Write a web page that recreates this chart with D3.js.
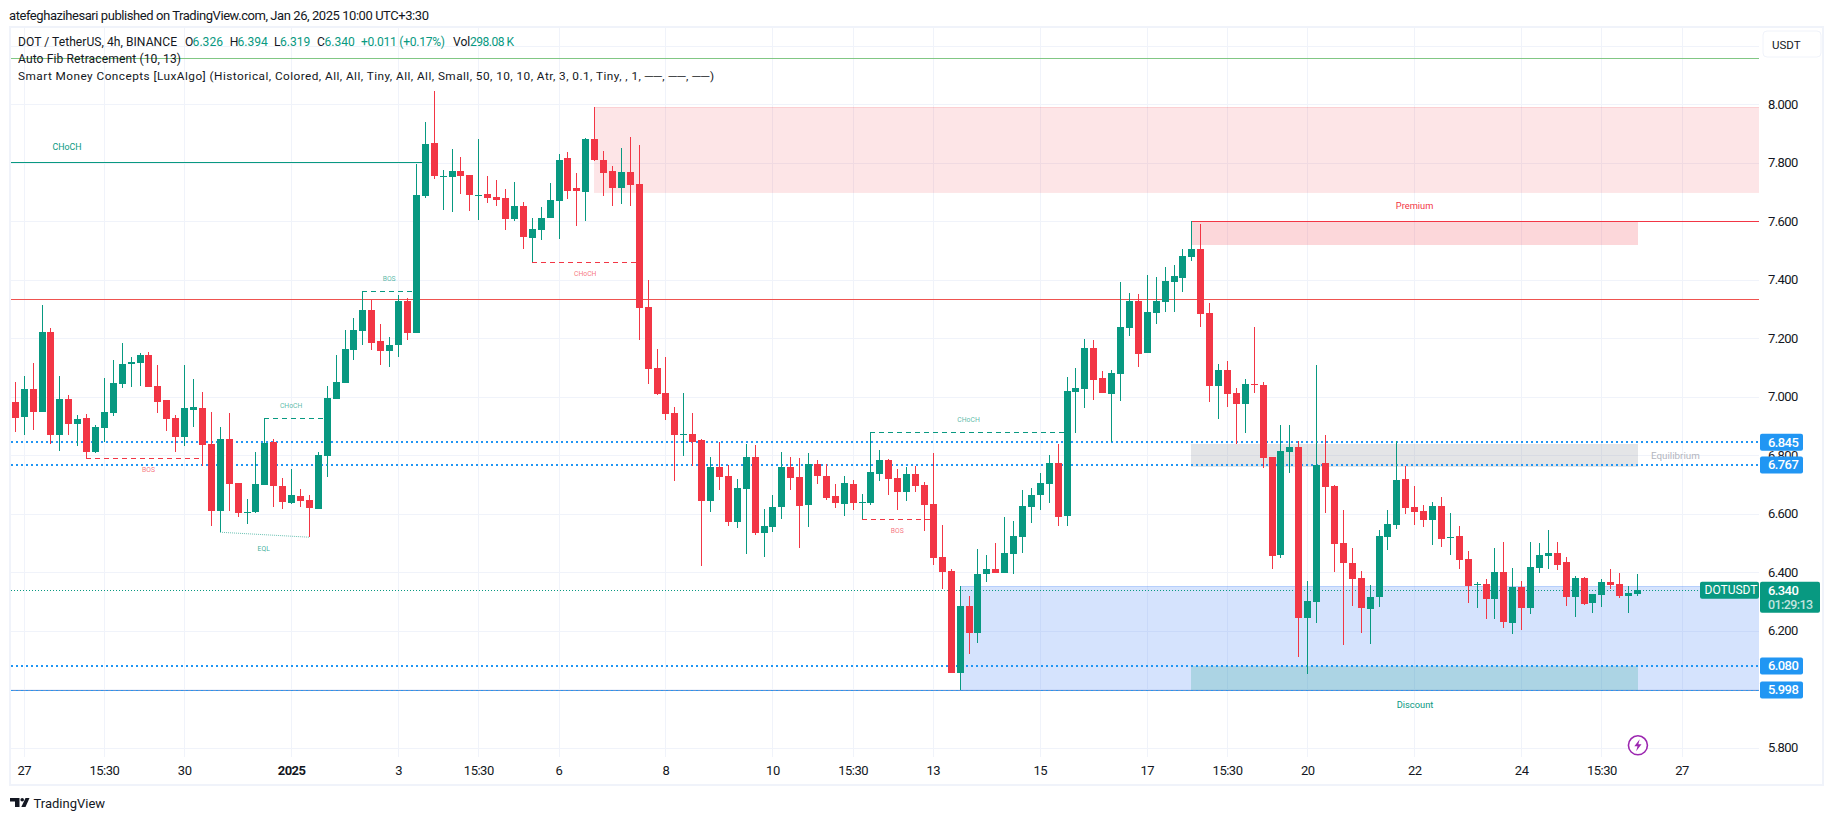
<!DOCTYPE html>
<html>
<head>
<meta charset="utf-8">
<title>DOT / TetherUS</title>
<script src="https://cdn.jsdelivr.net/npm/d3@7"></script>
<style>
  html, body { margin: 0; padding: 0; background: #fff; overflow: hidden; }
  text { font-family: Roboto, "Open Sans", sans-serif; }
</style>
</head>
<body>
<div id="chart"></div>
<script>
// bar number of the first candle (bar 0 sits on the "27" tick)
const firstBar = -1;

const opens = [
  6.983, 6.932, 7.027, 6.949, 7.222, 6.870, 6.993, 6.908, 6.928, 6.812,
  6.894, 6.945, 7.044, 7.113, 7.116, 7.144, 7.038, 6.990, 6.928, 6.863,
  6.956, 6.962, 6.839, 6.610, 6.856, 6.706, 6.605, 6.607, 6.699, 6.846,
  6.696, 6.638, 6.662, 6.648, 6.617, 6.798, 6.993, 7.048, 7.161, 7.226,
  7.297, 7.191, 7.157, 7.178, 7.328, 7.219, 7.687, 7.868, 7.753, 7.752,
  7.772, 7.759, 7.687, 7.694, 7.683, 7.680, 7.608, 7.653, 7.543, 7.571,
  7.612, 7.670, 7.817, 7.714, 7.700, 7.882, 7.810, 7.772, 7.714, 7.769,
  7.728, 7.307, 7.098, 7.013, 6.945, 6.870, 6.873, 6.852, 6.644, 6.760,
  6.729, 6.572, 6.685, 6.794, 6.534, 6.555, 6.623, 6.760, 6.726, 6.630,
  6.770, 6.729, 6.661, 6.633, 6.702, 6.638, 6.637, 6.736, 6.784, 6.722,
  6.674, 6.736, 6.698, 6.633, 6.452, 6.404, 6.056, 6.285, 6.192, 6.394,
  6.411, 6.398, 6.463, 6.521, 6.623, 6.664, 6.702, 6.774, 6.592, 7.017,
  7.027, 7.167, 7.064, 7.010, 7.078, 7.235, 7.328, 7.150, 7.287, 7.324,
  7.393, 7.406, 7.478, 7.505, 7.287, 7.037, 7.092, 7.013, 6.976, 7.044,
  7.041, 6.794, 6.459, 6.811, 6.829, 6.244, 6.299, 6.774, 6.695, 6.501,
  6.432, 6.381, 6.275, 6.316, 6.521, 6.562, 6.719, 6.624, 6.610, 6.579,
  6.627, 6.517, 6.524, 6.445, 6.357, 6.360, 6.309, 6.401, 6.227, 6.350,
  6.278, 6.415, 6.456, 6.466, 6.435, 6.316, 6.381, 6.295, 6.322, 6.367,
  6.360, 6.319, 6.326
];
const highs = [
  7.051, 7.072, 7.116, 7.315, 7.236, 7.072, 7.007, 6.938, 6.942, 6.904,
  7.065, 7.126, 7.185, 7.137, 7.150, 7.154, 7.109, 6.990, 6.938, 7.109,
  7.062, 7.017, 6.949, 6.897, 6.945, 6.706, 6.651, 6.812, 6.927, 6.856,
  6.723, 6.754, 6.685, 6.665, 6.812, 7.038, 7.144, 7.229, 7.270, 7.361,
  7.332, 7.250, 7.205, 7.349, 7.337, 7.796, 7.940, 8.046, 7.776, 7.848,
  7.820, 7.759, 7.882, 7.755, 7.742, 7.711, 7.735, 7.666, 7.612, 7.649,
  7.731, 7.830, 7.837, 7.765, 7.885, 7.991, 7.840, 7.789, 7.851, 7.888,
  7.861, 7.399, 7.163, 7.136, 6.965, 7.013, 6.945, 6.856, 6.794, 6.845,
  6.767, 6.719, 6.839, 6.835, 6.616, 6.664, 6.811, 6.794, 6.791, 6.808,
  6.784, 6.770, 6.702, 6.729, 6.715, 6.668, 6.878, 6.818, 6.787, 6.753,
  6.760, 6.763, 6.709, 6.808, 6.562, 6.411, 6.353, 6.319, 6.480, 6.459,
  6.500, 6.589, 6.575, 6.681, 6.688, 6.739, 6.801, 6.839, 7.068, 7.098,
  7.198, 7.194, 7.088, 7.092, 7.393, 7.355, 7.352, 7.417, 7.410, 7.444,
  7.451, 7.505, 7.600, 7.591, 7.321, 7.112, 7.123, 7.030, 7.061, 7.239,
  7.051, 6.794, 6.904, 6.904, 6.849, 6.370, 7.109, 6.870, 6.699, 6.613,
  6.484, 6.405, 6.357, 6.545, 6.613, 6.849, 6.764, 6.695, 6.630, 6.640,
  6.657, 6.603, 6.558, 6.473, 6.367, 6.377, 6.483, 6.504, 6.415, 6.370,
  6.504, 6.500, 6.545, 6.504, 6.452, 6.387, 6.384, 6.326, 6.377, 6.411,
  6.398, 6.353, 6.394
];
const lows = [
  6.880, 6.870, 6.887, 6.949, 6.839, 6.815, 6.870, 6.832, 6.788, 6.809,
  6.846, 6.935, 7.031, 7.034, 7.038, 7.034, 6.945, 6.884, 6.812, 6.832,
  6.897, 6.764, 6.559, 6.537, 6.610, 6.590, 6.566, 6.603, 6.699, 6.624,
  6.617, 6.634, 6.624, 6.520, 6.617, 6.726, 6.993, 7.048, 7.126, 7.178,
  7.161, 7.109, 7.103, 7.137, 7.195, 7.219, 7.680, 7.745, 7.639, 7.632,
  7.694, 7.636, 7.605, 7.663, 7.653, 7.571, 7.601, 7.506, 7.460, 7.536,
  7.612, 7.540, 7.676, 7.584, 7.601, 7.805, 7.687, 7.652, 7.659, 7.652,
  7.194, 7.044, 7.006, 6.921, 6.712, 6.798, 6.763, 6.421, 6.606, 6.681,
  6.558, 6.551, 6.463, 6.527, 6.452, 6.538, 6.582, 6.681, 6.483, 6.555,
  6.702, 6.647, 6.620, 6.592, 6.613, 6.581, 6.630, 6.712, 6.664, 6.613,
  6.644, 6.674, 6.541, 6.425, 6.343, 6.056, 5.998, 6.121, 6.158, 6.367,
  6.398, 6.398, 6.394, 6.466, 6.568, 6.613, 6.637, 6.558, 6.558, 6.876,
  6.962, 6.989, 7.013, 6.846, 6.986, 7.208, 7.102, 7.150, 7.249, 7.290,
  7.290, 7.358, 7.464, 7.239, 6.982, 6.924, 6.965, 6.839, 6.876, 7.013,
  6.757, 6.411, 6.449, 6.740, 6.110, 6.052, 6.227, 6.603, 6.401, 6.152,
  6.285, 6.193, 6.155, 6.282, 6.477, 6.548, 6.600, 6.562, 6.555, 6.494,
  6.487, 6.459, 6.411, 6.295, 6.278, 6.240, 6.240, 6.210, 6.189, 6.203,
  6.258, 6.398, 6.411, 6.408, 6.285, 6.247, 6.288, 6.261, 6.282, 6.343,
  6.312, 6.261, 6.319
];
const closes = [
  6.928, 7.027, 6.949, 7.222, 6.870, 6.993, 6.908, 6.925, 6.812, 6.897,
  6.949, 7.048, 7.113, 7.120, 7.144, 7.034, 6.983, 6.925, 6.863, 6.962,
  6.966, 6.836, 6.610, 6.856, 6.703, 6.603, 6.607, 6.703, 6.843, 6.696,
  6.641, 6.665, 6.644, 6.621, 6.802, 6.997, 7.051, 7.164, 7.229, 7.297,
  7.185, 7.157, 7.178, 7.328, 7.219, 7.690, 7.865, 7.755, 7.755, 7.772,
  7.755, 7.690, 7.690, 7.680, 7.673, 7.608, 7.653, 7.547, 7.574, 7.612,
  7.673, 7.810, 7.704, 7.704, 7.882, 7.810, 7.765, 7.714, 7.769, 7.724,
  7.304, 7.095, 7.010, 6.941, 6.869, 6.873, 6.845, 6.644, 6.760, 6.726,
  6.572, 6.688, 6.794, 6.534, 6.558, 6.623, 6.760, 6.722, 6.627, 6.770,
  6.729, 6.654, 6.637, 6.705, 6.637, 6.640, 6.743, 6.784, 6.719, 6.674,
  6.736, 6.695, 6.630, 6.449, 6.401, 6.056, 6.285, 6.192, 6.394, 6.411,
  6.398, 6.466, 6.524, 6.627, 6.664, 6.705, 6.774, 6.589, 7.020, 7.030,
  7.167, 7.057, 7.013, 7.081, 7.239, 7.328, 7.146, 7.290, 7.328, 7.396,
  7.413, 7.481, 7.505, 7.283, 7.037, 7.092, 7.010, 6.976, 7.044, 7.041,
  6.791, 6.456, 6.815, 6.829, 6.244, 6.302, 6.767, 6.692, 6.497, 6.432,
  6.378, 6.278, 6.316, 6.525, 6.566, 6.716, 6.620, 6.607, 6.579, 6.627,
  6.514, 6.521, 6.442, 6.353, 6.360, 6.309, 6.401, 6.230, 6.350, 6.278,
  6.418, 6.459, 6.466, 6.425, 6.316, 6.381, 6.292, 6.326, 6.367, 6.357,
  6.319, 6.329, 6.340
];

const priceTicks = [8.0, 7.8, 7.6, 7.4, 7.2, 7.0, 6.8, 6.6, 6.4, 6.2, 6.0, 5.8];
const timeBars = [0, 9, 18, 30, 42, 51, 60, 72, 84, 93, 102, 114, 126, 135, 144, 156, 168, 177, 186];
const timeLabels = ["27", "15:30", "30", "2025", "3", "15:30", "6", "8", "10", "15:30", "13", "15", "17", "15:30", "20", "22", "24", "15:30", "27"];

// auto fib levels with a blue label on the scale
const fibLevels = [6.845, 6.767, 6.080, 5.998];
const lastPrice = 6.340;
const topFibLine = 8.157;
const redFibLine = 7.333;

// smart money zones: [first bar, last bar or null for the right edge, top, bottom]
const trailingHighZone = [64, null, 7.990, 7.699];
const premiumZone = [131, 181.1, 7.600, 7.519];
const equilibriumZone = [131, 181.1, 6.840, 6.761];
const discountZone = [131, 181.1, 6.080, 5.998];
const rangeZone = [105, null, 6.353, 5.998];

// structure lines: [from bar, to bar, price, label, label bar]
const bullDashed = [[38, 44, 7.361, "BOS", 41], [27, 34, 6.927, "CHoCH", 30], [95, 117, 6.878, "CHoCH", 106]];
const bearDashed = [[7, 20, 6.790, "BOS", 14], [57, 69, 7.460, "CHoCH", 63], [94, 102, 6.581, "BOS", 98]];

const green = "#089981";
const red = "#f23645";
const blue = "#2196f3";
const ink = "#131722";
const gridColor = "#f0f3fa";

const width = 1835;
const height = 821;
const plot = { left: 11, right: 1759, top: 28, bottom: 757 };

const x = d3.scaleLinear().domain([0, 186]).range([23.7, 1681.6]);
const y = d3.scaleLinear().domain([7.6, 5.8]).range([221.3, 747.8]);
const px = v => Math.round(x(v));
const py = v => Math.round(y(v));

const svg = d3.select("#chart")
  .append("svg")
  .attr("width", width)
  .attr("height", height)
  .style("display", "block");

const candles = opens.map((o, i) => ({ bar: firstBar + i, o, h: highs[i], l: lows[i], c: closes[i] }));

// Frame
svg.append("rect")
  .attr("x", plot.left - 1)
  .attr("y", 27)
  .attr("width", 1824 - plot.left)
  .attr("height", 758)
  .attr("fill", "none")
  .attr("stroke", gridColor)
  .attr("stroke-width", 2);

const chart = svg.append("g").attr("shape-rendering", "crispEdges");

// Gridlines
chart.selectAll(".vgrid")
  .data(timeBars)
  .join("line")
  .attr("x1", d => px(d) + 0.5)
  .attr("x2", d => px(d) + 0.5)
  .attr("y1", plot.top)
  .attr("y2", plot.bottom)
  .attr("stroke", gridColor);

chart.selectAll(".hgrid")
  .data([8.2, ...priceTicks])
  .join("line")
  .attr("x1", plot.left)
  .attr("x2", plot.right)
  .attr("y1", d => py(d) + 0.5)
  .attr("y2", d => py(d) + 0.5)
  .attr("stroke", gridColor);

// Zones
const drawZone = ([from, to, top, bottom], fill, opacity, edge) => {
  const x0 = px(from);
  const x1 = to === null ? plot.right : px(to);
  chart.append("rect")
    .attr("x", x0)
    .attr("y", py(top))
    .attr("width", x1 - x0)
    .attr("height", py(bottom) - py(top))
    .attr("fill", fill)
    .attr("fill-opacity", opacity);
  if (edge) {
    [top, bottom].forEach(p => {
      chart.append("line")
        .attr("x1", x0)
        .attr("x2", x1)
        .attr("y1", py(p) + 0.5)
        .attr("y2", py(p) + 0.5)
        .attr("stroke", edge);
    });
  }
};

drawZone(trailingHighZone, red, 0.13, "rgba(242,54,69,0.12)");
drawZone(rangeZone, "#2d73f5", 0.2, "rgba(45,115,245,0.18)");
drawZone(premiumZone, red, 0.2);
drawZone(equilibriumZone, "#787b86", 0.2);
drawZone(discountZone, green, 0.2);

// Fib lines
const hLine = (price, color, from, to, sw, dash) => {
  const w = sw || 1;
  chart.append("line")
    .attr("x1", from)
    .attr("x2", to)
    .attr("y1", py(price) + (w % 2 ? 0.5 : 0))
    .attr("y2", py(price) + (w % 2 ? 0.5 : 0))
    .attr("stroke", color)
    .attr("stroke-width", w)
    .attr("stroke-dasharray", dash || null);
};

hLine(topFibLine, "#81c784", plot.left, plot.right, 1);
hLine(redFibLine, "#ef5350", plot.left, plot.right, 1);
hLine(premiumZone[2], red, px(premiumZone[0]), plot.right, 1);
hLine(5.998, "#6a8fcb", plot.left, plot.right, 1);
// the lowest level sits on the zone edge and only shows as a thin row of dots
fibLevels.forEach(p => p === 5.998
  ? hLine(p, blue, plot.left, plot.right, 1, "2,3")
  : hLine(p, blue, plot.left, plot.right, 2, "2,3"));
hLine(lastPrice, green, plot.left, plot.right, 1, "1,2");

// Structure
hLine(7.802, green, plot.left, px(45), 1);

const drawDashed = (rows, color) => {
  rows.forEach(([from, to, price]) => {
    hLine(price, color, px(from), px(to), 1, "5,4");
  });
};
drawDashed(bullDashed, green);
drawDashed(bearDashed, red);

// equal lows link the two wick tips
chart.append("line")
  .attr("x1", px(22))
  .attr("x2", px(32))
  .attr("y1", y(lows[22 - firstBar]))
  .attr("y2", y(lows[32 - firstBar]))
  .attr("stroke", green)
  .attr("stroke-opacity", 0.6)
  .attr("stroke-dasharray", "1,1")
  .attr("shape-rendering", "auto");

// Candles
const candle = chart.selectAll(".candle")
  .data(candles)
  .join("g")
  .attr("class", "candle")
  .attr("fill", d => d.c >= d.o ? green : red);

candle.append("rect")
  .attr("x", d => px(d.bar))
  .attr("y", d => py(d.h))
  .attr("width", 1)
  .attr("height", d => Math.max(1, py(d.l) - py(d.h)));

candle.append("rect")
  .attr("x", d => px(d.bar) - 3)
  .attr("y", d => py(Math.max(d.o, d.c)))
  .attr("width", 7)
  .attr("height", d => Math.max(1, py(Math.min(d.o, d.c)) - py(Math.max(d.o, d.c))));

// Structure labels
const tinyLabel = (text, cx, cy, color, size, opacity) => {
  svg.append("text")
    .attr("x", cx)
    .attr("y", cy)
    .attr("text-anchor", "middle")
    .attr("dominant-baseline", "central")
    .attr("font-size", size)
    .attr("fill", color)
    .attr("fill-opacity", opacity || 1)
    .text(text);
};

tinyLabel("CHoCH", 67, 146.7, green, 8.8);
bullDashed.forEach(([, , price, label, bar]) => tinyLabel(label, x(bar), y(price) - 12.5, green, 6.8, 0.7));
bearDashed.forEach(([, , price, label, bar]) => tinyLabel(label, x(bar), y(price) + 12, red, 6.8, 0.7));
tinyLabel("EQL", 263.7, 549.3, green, 6.8, 0.8);
tinyLabel("Premium", 1414.6, 205.7, red, 9.3);
tinyLabel("Equilibrium", 1675.4, 455.7, "#b2b5be", 9.8);
tinyLabel("Discount", 1415, 704.7, green, 9.3);

// Axes
const priceAxis = svg.append("g")
  .attr("transform", `translate(${plot.right},0)`)
  .call(d3.axisRight(y).tickValues(priceTicks).tickFormat(d3.format(".3f")).tickSize(0).tickPadding(9))
  .call(g => g.select(".domain").remove());
priceAxis.selectAll("text")
  .attr("fill", ink)
  .style("font-family", "Roboto, sans-serif")
  .style("font-size", "13px")
  .style("letter-spacing", "-0.6px");

const timeAxis = svg.append("g")
  .attr("transform", `translate(0,${plot.bottom})`)
  .call(d3.axisBottom(x).tickValues(timeBars).tickFormat((d, i) => timeLabels[i]).tickSize(0).tickPadding(9))
  .call(g => g.select(".domain").remove());
timeAxis.selectAll("text")
  .attr("fill", ink)
  .style("font-family", "Roboto, sans-serif")
  .style("font-size", "13px")
  .style("letter-spacing", "-0.5px")
  .style("font-weight", (d, i) => timeLabels[i] === "2025" ? 700 : 400);

// Scale labels
const scaleText = (text, yPos, opacity, size) => {
  svg.append("text")
    .attr("x", 1768)
    .attr("y", yPos)
    .attr("dominant-baseline", "central")
    .attr("font-size", size || 13)
    .attr("font-weight", 500)
    .attr("letter-spacing", -0.6)
    .attr("fill", "#fff")
    .attr("fill-opacity", opacity || 1)
    .text(text);
};

fibLevels.forEach(p => {
  svg.append("rect")
    .attr("x", 1760)
    .attr("y", y(p) - 8.5)
    .attr("width", 43)
    .attr("height", 17)
    .attr("rx", 2)
    .attr("fill", blue);
  scaleText(d3.format(".3f")(p), y(p));
});

svg.append("rect")
  .attr("x", 1700)
  .attr("y", y(lastPrice) - 8)
  .attr("width", 59)
  .attr("height", 17)
  .attr("rx", 2)
  .attr("fill", green);
svg.append("rect")
  .attr("x", 1760)
  .attr("y", y(lastPrice) - 8)
  .attr("width", 60)
  .attr("height", 31)
  .attr("rx", 2)
  .attr("fill", green);
svg.append("text")
  .attr("x", 1704.5)
  .attr("y", y(lastPrice) + 0.5)
  .attr("dominant-baseline", "central")
  .attr("font-size", 12)
  .attr("fill", "#fff")
  .text("DOTUSDT");
scaleText(d3.format(".3f")(lastPrice), y(lastPrice) + 0.5);
scaleText("01:29:13", y(lastPrice) + 15, 0.75, 12.5);

// Currency button
svg.append("rect")
  .attr("x", 1763)
  .attr("y", 31)
  .attr("width", 58)
  .attr("height", 26)
  .attr("rx", 4)
  .attr("fill", "#fff")
  .attr("stroke", gridColor);
svg.append("text")
  .attr("x", 1772)
  .attr("y", 44.5)
  .attr("dominant-baseline", "central")
  .attr("font-size", 11.5)
  .attr("fill", ink)
  .text("USDT");

// Header text
const headerText = (text, xPos, yPos, color, size, fit) => {
  svg.append("text")
    .attr("x", xPos)
    .attr("y", yPos)
    .attr("dominant-baseline", "central")
    .attr("font-size", size || 12.1)
    .attr("fill", color || ink)
    .attr("textLength", fit || null)
    .attr("lengthAdjust", fit ? "spacing" : null)
    .text(text);
};

headerText("atefeghazihesari published on TradingView.com, Jan 26, 2025 10:00 UTC+3:30", 9, 15, ink, 13, 420);
headerText("DOT / TetherUS, 4h, BINANCE", 18, 41.7, ink, 12.1, 159);
[["O", 185, "6.326", 192.6], ["H", 229.7, "6.394", 237.5], ["L", 274, "6.319", 280], ["C", 317, "6.340", 324.5]]
  .forEach(([k, kx, v, vx]) => {
    headerText(k, kx, 41.7);
    headerText(v, vx, 41.7, green);
  });
headerText("+0.011 (+0.17%)", 361, 41.7, green, 12.1, 84);
headerText("Vol", 453, 41.7);
headerText("298.08 K", 470, 41.7, green, 12.1, 44);
headerText("Auto Fib Retracement (10, 13)", 18, 59, ink, 12.1, 163);
headerText("Smart Money Concepts [LuxAlgo] (Historical, Colored, All, All, Tiny, All, All, Small, 50, 10, 10, Atr, 3, 0.1, Tiny, , 1, ──, ──, ──)", 18, 76, ink, 11.8, 696);

// Lightning badge
const badge = svg.append("g").attr("transform", `translate(${x(181.1)},745.3)`);
badge.append("circle").attr("r", 9.5).attr("fill", "#fff").attr("stroke", "#9c27b0").attr("stroke-width", 1.6);
badge.append("path").attr("d", "M1.8,-6 L-3.6,1 H-0.4 L-1.8,6 L3.6,-1 H0.4 Z").attr("fill", "#9c27b0");

// TradingView logo
const logo = svg.append("g").attr("transform", "translate(10,798)").attr("fill", ink);
logo.append("path").attr("d", "M0,0 H9.5 V9 H5 V3.6 H0 Z");
logo.append("circle").attr("cx", 12.2).attr("cy", 1.8).attr("r", 1.8);
logo.append("path").attr("d", "M15.5,0 H19.5 L15.5,9 H11.3 Z");
svg.append("text")
  .attr("x", 33.5)
  .attr("y", 803)
  .attr("dominant-baseline", "central")
  .attr("font-size", 13)
  .attr("fill", ink)
  .text("TradingView");
</script>
</body>
</html>
